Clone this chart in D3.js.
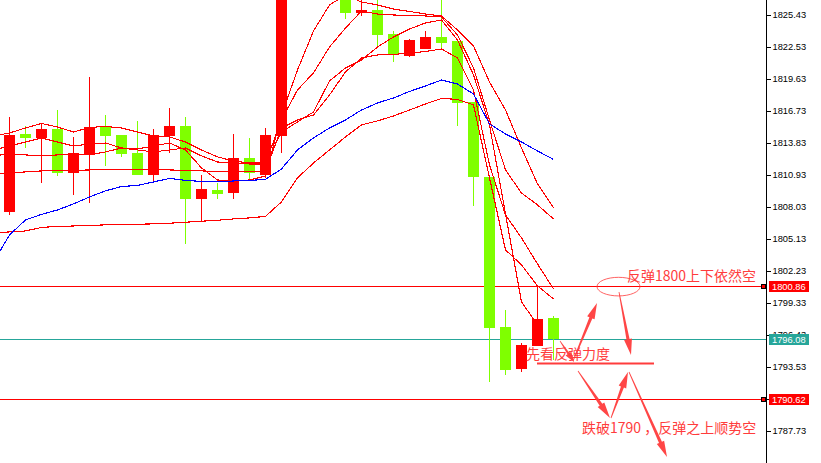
<!DOCTYPE html>
<html><head><meta charset="utf-8">
<script src="https://cdn.jsdelivr.net/npm/d3@7"></script>
<style>
html,body{margin:0;padding:0;background:#fff;overflow:hidden}
svg{display:block}
</style></head><body>
<svg id="c" width="821" height="463"></svg>
<script>
// ---- data (XAUUSD bars) ----
const barIndex = d3.range(-1, 35);
const opens  = [1808.20,1807.60,1814.65,1814.28,1815.10,1811.14,1812.74,1815.28,1814.56,1812.92,1810.96,1814.49,1815.37,1808.78,1809.57,1809.33,1812.47,1810.96,1814.49,1834.49,1835.85,1834.04,1830.41,1825.64,1825.88,1823.74,1821.74,1822.38,1823.46,1823.10,1817.57,1810.78,1797.18,1793.35,1795.43,1797.97];
const highs  = [1810.00,1816.19,1815.40,1815.60,1816.82,1814.37,1819.84,1816.40,1814.60,1815.82,1815.10,1817.00,1816.19,1810.96,1810.18,1814.67,1814.31,1815.19,1835.40,1837.66,1837.21,1834.94,1831.32,1827.06,1827.06,1824.01,1823.26,1824.01,1827.06,1823.10,1817.57,1810.78,1798.70,1795.73,1800.84,1798.15];
const lows   = [1806.50,1807.31,1813.40,1810.16,1810.84,1809.12,1808.42,1811.77,1812.59,1810.93,1810.41,1812.95,1804.70,1806.79,1808.78,1808.78,1810.41,1810.66,1812.95,1833.13,1832.23,1828.60,1825.07,1825.31,1822.65,1821.20,1821.65,1822.38,1822.35,1815.40,1808.15,1792.20,1792.80,1793.10,1795.43,1794.16];
const closes = [1807.60,1814.56,1814.28,1815.10,1811.14,1812.90,1815.28,1814.49,1812.86,1810.96,1814.58,1815.37,1808.78,1809.66,1809.24,1812.47,1811.08,1814.58,1834.49,1835.85,1834.04,1830.41,1825.64,1825.88,1823.65,1821.81,1823.17,1823.46,1822.92,1817.48,1810.78,1797.09,1793.26,1795.52,1797.88,1796.04];

const maA = [1813.20,1813.56,1813.92,1814.29,1813.92,1813.56,1813.74,1813.83,1813.38,1813.29,1813.56,1813.83,1813.20,1811.57,1810.48,1810.39,1810.48,1810.84,1816.37,1820.45,1823.98,1826.34,1827.24,1826.61,1826.34,1825.97,1825.75,1825.52,1825.34,1824.07,1822.62,1819.36,1816.82,1813.38,1810.12,1807.95];
const maB = [1814.47,1814.74,1815.19,1815.60,1815.28,1814.83,1815.24,1815.33,1815.19,1814.83,1814.47,1814.38,1813.92,1813.20,1812.57,1812.20,1812.02,1812.02,1815.92,1818.64,1820.18,1822.53,1824.25,1825.79,1825.52,1825.43,1825.39,1825.34,1825.25,1823.62,1820.63,1815.92,1811.39,1809.30,1808.22,1806.95];
const maC = [1812.66,1812.84,1812.75,1812.66,1812.75,1812.84,1812.75,1813.02,1813.38,1813.20,1813.02,1813.20,1813.38,1812.66,1812.11,1812.02,1811.93,1811.84,1814.83,1815.74,1816.64,1819.45,1820.63,1821.35,1822.53,1823.44,1824.16,1824.71,1824.98,1823.17,1820.00,1815.47,1807.40,1799.43,1797.35,null];
const maD = [1811.03,1811.12,1811.21,1811.30,1811.30,1811.34,1811.39,1811.39,1811.39,1811.39,1811.39,1811.39,1811.34,1811.30,1811.25,1811.21,1811.21,1811.30,1815.19,1815.92,1816.37,1818.18,1820.27,1821.54,1821.81,1821.85,1821.99,1822.12,1822.35,1821.54,1818.64,1811.84,1807.31,1805.23,1802.87,1800.61];
const maE = [1805.68,1805.77,1805.86,1806.18,1806.27,1806.31,1806.36,1806.41,1806.42,1806.47,1806.50,1806.56,1806.65,1806.74,1806.83,1806.95,1807.04,1807.18,1808.49,1810.66,1812.02,1813.20,1814.38,1815.47,1815.83,1816.28,1816.82,1817.37,1817.87,1817.78,1817.28,1810.66,1804.14,1802.78,1800.88,1799.70];
const maBlue = [1803.05,1805.50,1806.86,1807.36,1807.76,1808.31,1808.94,1809.49,1809.89,1809.98,1810.30,1810.62,1810.44,1810.35,1810.30,1810.39,1810.44,1810.53,1811.48,1813.20,1814.29,1815.19,1815.92,1816.82,1817.46,1817.91,1818.50,1819.00,1819.54,1819.18,1818.27,1815.56,1814.65,1813.92,1813.11,1812.34];

const tickValues = [1825.43,1822.53,1819.63,1816.73,1813.83,1810.93,1808.03,1805.13,1802.23,1799.33,1796.43,1793.53,1790.63,1787.73];
const levelValues = [1800.86, 1796.08, 1790.62];
const levelLabels = ["1800.86", "1796.08", "1790.62"];
const levelColors = ["#ff0000", "#26a69a", "#ff0000"];

const noteTexts = ["反弹1800上下依然空", "先看反弹力度", "跌破1790 ，反弹之上顺势空"];

// ---- layout ----
const W = 821, H = 463, axisX = 766;
const svg = d3.select("#c");
const x = d3.scaleLinear().domain([0, 34]).range([9.5, 553.5]);
const y = d3.scaleLinear().domain([1825.43, 1787.73]).range([15, 431]);

svg.append("rect").attr("width", W).attr("height", H).attr("fill", "#fff");
svg.append("defs").append("clipPath").attr("id", "plot")
  .append("rect").attr("x", 0).attr("y", 0).attr("width", axisX).attr("height", H);

const plot = svg.append("g").attr("clip-path", "url(#plot)");

// level lines
levelValues.forEach((v, i) => {
  const yy = Math.round(y(v)) + 0.5;
  plot.append("line").attr("x1", 0).attr("x2", axisX).attr("y1", yy).attr("y2", yy)
    .attr("stroke", levelColors[i]).attr("stroke-width", 1).attr("shape-rendering", "crispEdges");
});

// candles
const bars = barIndex.map((k, i) => ({k, o: opens[i], h: highs[i], l: lows[i], c: closes[i]}));
const bullC = "#ff0000", bearC = "#7fff00";
const cg = plot.append("g").attr("shape-rendering", "crispEdges");
bars.forEach(b => {
  const cx = x(b.k);
  const col = b.c >= b.o ? bullC : bearC;
  const yh = Math.round(y(b.h)), yl = Math.round(y(b.l));
  cg.append("rect").attr("x", cx - 0.5).attr("y", yh).attr("width", 1).attr("height", Math.max(1, yl - yh)).attr("fill", col);
  const yt = Math.round(y(Math.max(b.o, b.c))), yb = Math.round(y(Math.min(b.o, b.c)));
  cg.append("rect").attr("x", cx - 5.5).attr("y", yt).attr("width", 11).attr("height", Math.max(1, yb - yt)).attr("fill", col);
});

// moving average lines
const lineGen = d3.line().defined(d => d.v != null).x(d => x(d.k)).y(d => y(d.v));
const series = [
  {vals: maE, col: "#ff0000"},
  {vals: maD, col: "#ff0000"},
  {vals: maC, col: "#ff0000"},
  {vals: maB, col: "#ff0000"},
  {vals: maA, col: "#ff0000"},
  {vals: maBlue, col: "#0000ff"}
];
series.forEach(s => {
  plot.append("path").datum(barIndex.map((k, i) => ({k, v: s.vals[i]})))
    .attr("d", lineGen).attr("fill", "none").attr("stroke", s.col).attr("stroke-width", 1.1)
    .attr("shape-rendering", "crispEdges");
});

// ---- annotations ----
const noteCol = "#ff3c3c";
const ann = svg.append("g");
function arrow(x1, y1, x2, y2, hl = 16, hw = 4, w0 = 0.4, w1 = 1.6) {
  const dx = x2 - x1, dy = y2 - y1, L = Math.hypot(dx, dy);
  const ux = dx / L, uy = dy / L, px = -uy, py = ux;
  const bx = x2 - ux * hl, by = y2 - uy * hl;
  const pts = [
    [x1 + px * w0, y1 + py * w0], [bx + px * w1, by + py * w1], [bx + px * hw, by + py * hw],
    [x2, y2], [bx - px * hw, by - py * hw], [bx - px * w1, by - py * w1], [x1 - px * w0, y1 - py * w0]
  ];
  ann.append("path").attr("d", "M" + pts.map(p => p.join(",")).join("L") + "Z").attr("fill", noteCol).attr("fill-opacity", 0.95);
}
ann.append("ellipse").attr("cx", 618.5).attr("cy", y(1800.86) + 0.5).attr("rx", 21.5).attr("ry", 9.3)
  .attr("fill", "none").attr("stroke", noteCol).attr("stroke-width", 1).attr("stroke-opacity", 0.8);
ann.append("line").attr("x1", 537).attr("x2", 654).attr("y1", 363.5).attr("y2", 363.5)
  .attr("stroke", noteCol).attr("stroke-width", 2);
arrow(560, 341, 574, 362, 10, 3.5, 0.3, 1.2);
arrow(573, 361, 597, 303);
arrow(619, 292, 631, 355);
arrow(578, 371, 610, 418);
arrow(611, 418, 628, 372);
arrow(629, 372, 667, 457);

const tf = "'Noto Sans CJK SC', 'Noto Sans', sans-serif";
[[627, 280.5], [526, 358.5], [582, 432.5]].forEach((p, i) => {
  ann.append("text").attr("x", p[0]).attr("y", p[1]).attr("fill", noteCol)
    .attr("font-family", tf).attr("font-size", 14).text(noteTexts[i]);
});

// ---- price axis ----
svg.append("line").attr("x1", axisX + 0.5).attr("x2", axisX + 0.5).attr("y1", 0).attr("y2", H)
  .attr("stroke", "#000").attr("shape-rendering", "crispEdges");
const yAxis = d3.axisRight(y).tickValues(tickValues).tickSize(4).tickPadding(2).tickFormat(d3.format(".2f"));
const ga = svg.append("g").attr("transform", `translate(${axisX + 0.5},0)`).call(yAxis);
ga.select(".domain").remove();
ga.selectAll("line").attr("stroke", "#000").attr("shape-rendering", "crispEdges");
ga.selectAll("text").attr("font-family", "'Liberation Sans', Arial, sans-serif").attr("font-size", 9.3).attr("fill", "#000");

// level labels
levelValues.forEach((v, i) => {
  const yy = Math.round(y(v));
  svg.append("rect").attr("x", 769).attr("y", yy - 5).attr("width", 40).attr("height", 11)
    .attr("fill", levelColors[i]).attr("shape-rendering", "crispEdges");
  svg.append("text").attr("x", 772).attr("y", yy + 0.5).attr("dy", "0.35em").attr("fill", "#fff")
    .attr("font-family", "'Liberation Sans', Arial, sans-serif").attr("font-size", 9.3).text(levelLabels[i]);
  if (i !== 1) {
    svg.append("rect").attr("x", 761).attr("y", yy - 2).attr("width", 5).attr("height", 5).attr("fill", "#000");
    svg.append("rect").attr("x", 762).attr("y", yy - 1).attr("width", 3).attr("height", 3).attr("fill", "#ff0000");
  }
});
</script>
</body></html>
